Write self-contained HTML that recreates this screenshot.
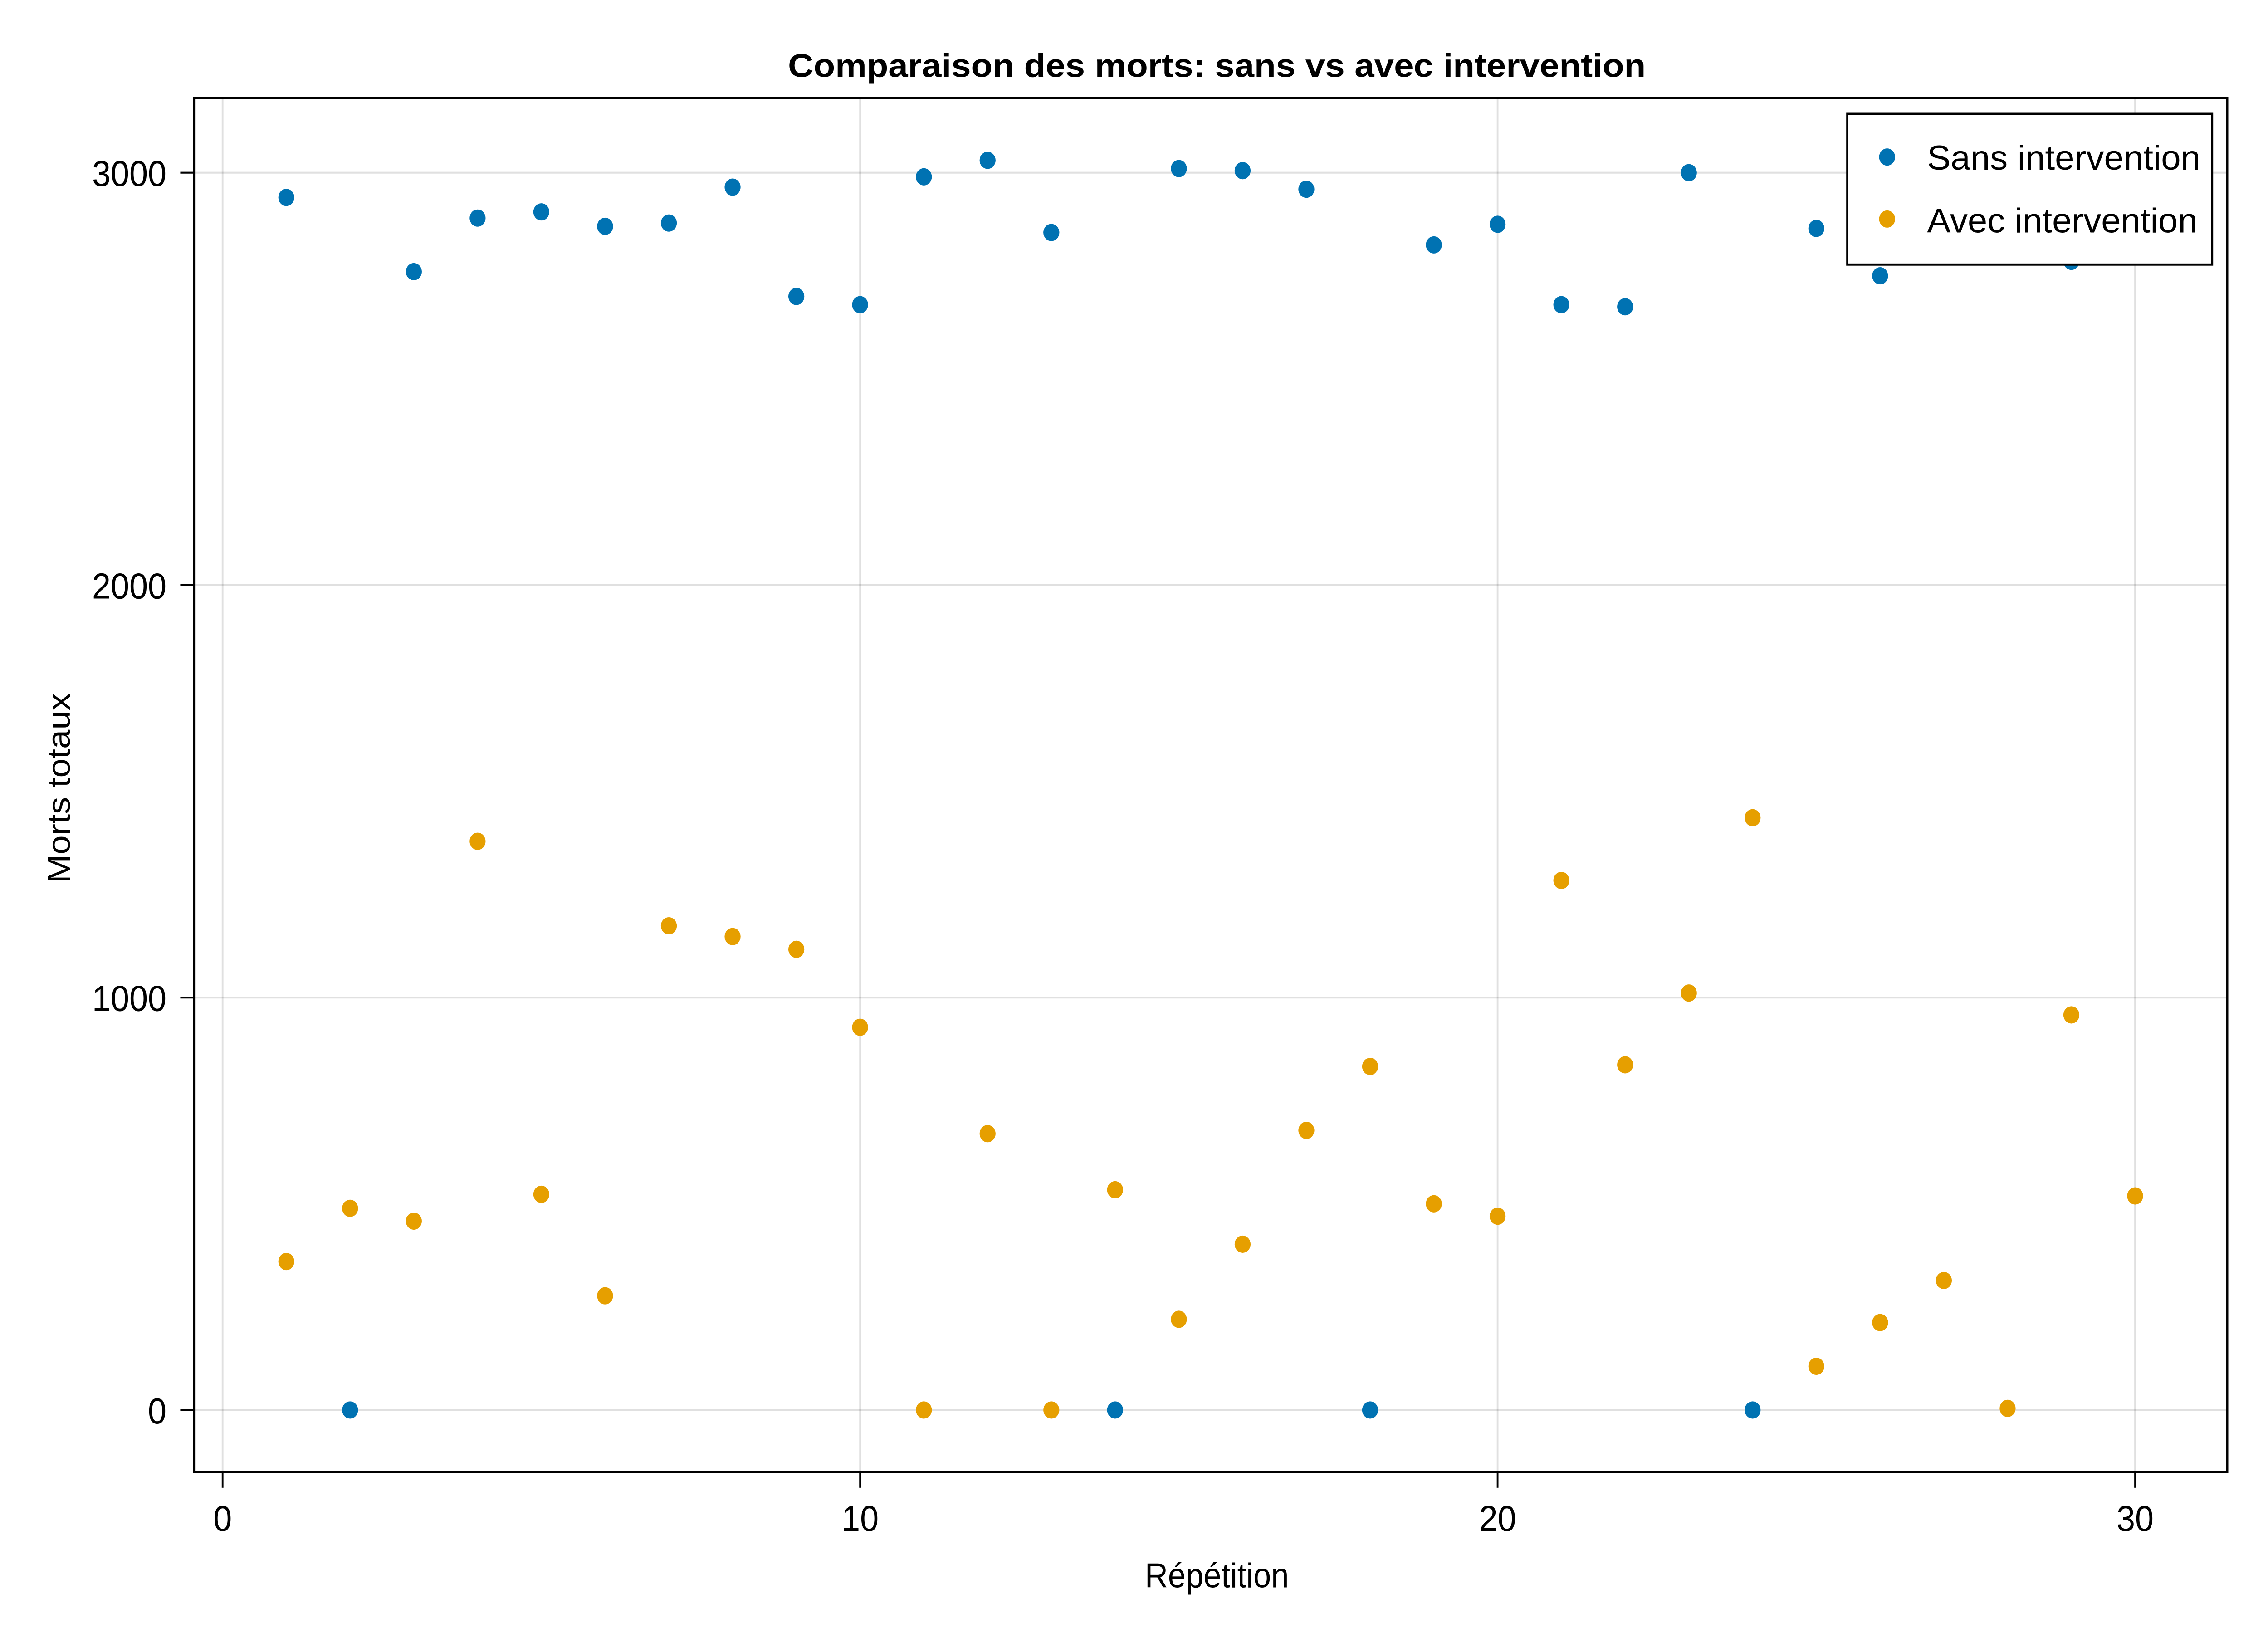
<!DOCTYPE html>
<html><head><meta charset="utf-8"><style>
html,body{margin:0;padding:0;background:#fff;width:100vw;height:100vh;overflow:hidden;}
svg{display:block;width:100vw;height:100vh;font-family:"Liberation Sans",sans-serif;}
</style></head><body>
<svg id="chart" viewBox="0 0 1560 1040" preserveAspectRatio="none" xmlns="http://www.w3.org/2000/svg">
<rect width="1560" height="1040" fill="#fff"/>
<g id="grid"></g>
<g id="ticks"></g>
<g id="marks"></g>
<rect x="133.5" y="62.5" width="1398.5" height="875" fill="none" stroke="#000" stroke-width="1.4"/>
<text x="837" y="49" text-anchor="middle" font-size="21" font-weight="bold" textLength="590" lengthAdjust="spacingAndGlyphs">Comparaison des morts: sans vs avec intervention</text>
<text x="837" y="1011" text-anchor="middle" font-size="22">Répétition</text>
<text transform="translate(48,502) rotate(-90)" text-anchor="middle" font-size="22">Morts totaux</text>
<g id="legend">
<rect x="1270.6" y="72.5" width="251" height="96" fill="#fff" stroke="#000" stroke-width="1.4"/>
<circle cx="1298" cy="100" r="5.5" fill="#0072b2"/>
<text x="1325.5" y="108" font-size="22" textLength="188" lengthAdjust="spacingAndGlyphs">Sans intervention</text>
<circle cx="1298" cy="139.5" r="5.5" fill="#e69f00"/>
<text x="1325.5" y="148" font-size="22" textLength="186" lengthAdjust="spacingAndGlyphs">Avec intervention</text>
</g>
</svg>
<script>
const repetitions = [1,2,3,4,5,6,7,8,9,10,11,12,13,14,15,16,17,18,19,20,21,22,23,24,25,26,27,28,29,30];
const sansValues = [2940,0,2760,2890,2905,2870,2878,2965,2700,2680,2990,3030,2855,0,3010,3005,2960,0,2825,2875,2680,2675,3000,0,2865,2750,2950,2900,2785,2980];
const avecValues = [360,489,458,1379,523,277,1174,1148,1117,928,0,670,0,534,220,402,678,833,500,470,1284,837,1011,1436,106,212,314,4,958,519];
const xTicks = [0,10,20,30];
const yTicks = [0,1000,2000,3000];
const NS="http://www.w3.org/2000/svg";
const X = v => 153.1 + v*43.85;
const Y = v => 898 - v*0.26267;
const grid=document.getElementById('grid'), ticks=document.getElementById('ticks'), marks=document.getElementById('marks');
function mk(tag, attrs, parent){const e=document.createElementNS(NS,tag);for(const k in attrs)e.setAttribute(k,attrs[k]);parent.appendChild(e);return e;}
xTicks.forEach(t=>{
  const l=mk('line',{x1:X(t),x2:X(t),y1:62.5,y2:937.5,stroke:'#000','stroke-opacity':0.12,'stroke-width':1.2},grid);
  
  
  const tk=mk('line',{x1:X(t),x2:X(t),y1:937.5,y2:947.5,stroke:'#000','stroke-width':1.2},ticks);
  
  
  const tx=mk('text',{x:X(t),y:975,'text-anchor':'middle','font-size':23},ticks);
  tx.textContent=t;
  
  
});
yTicks.forEach(t=>{
  const l=mk('line',{x1:133.5,x2:1532,y1:Y(t),y2:Y(t),stroke:'#000','stroke-opacity':0.12,'stroke-width':1.2},grid);
  
  
  const tk=mk('line',{x1:124,x2:133.5,y1:Y(t),y2:Y(t),stroke:'#000','stroke-width':1.2},ticks);
  
  
  const tx=mk('text',{x:114.5,y:Y(t)+8.5,'text-anchor':'end','font-size':23},ticks);
  tx.textContent=t;
  
  
});
repetitions.forEach((r,i)=>{
  const c=mk('circle',{cx:X(r),cy:Y(sansValues[i]),r:5.5,fill:'#0072b2'},marks);
  
  
});
repetitions.forEach((r,i)=>{
  const c=mk('circle',{cx:X(r),cy:Y(avecValues[i]),r:5.5,fill:'#e69f00'},marks);
  
  
});
document.getElementById('chart').appendChild(document.getElementById('legend'));
</script>
</body></html>
